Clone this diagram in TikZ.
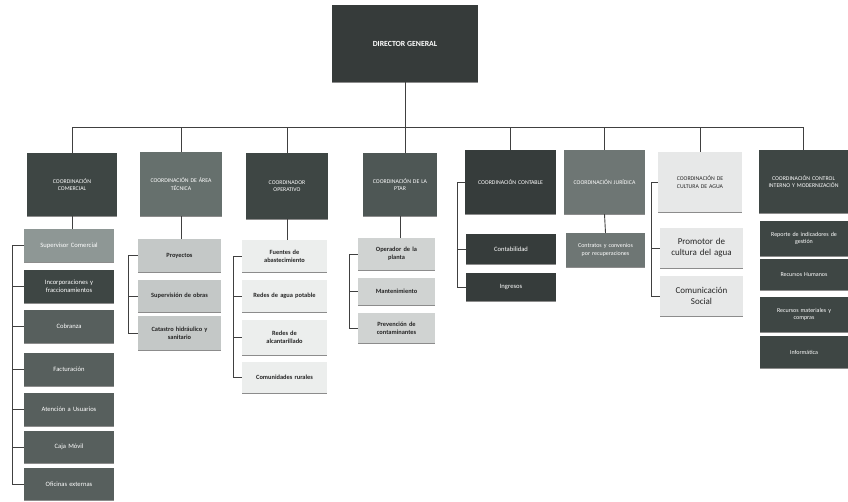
\documentclass[tikz,border=0pt]{standalone}
\usepackage{fontspec}
\setmainfont{Carlito}
\usetikzlibrary{shadows}
\definecolor{dirc}{HTML}{363B3A}
\definecolor{dk}{HTML}{3E4644}
\definecolor{dkb}{HTML}{363C3B}
\definecolor{md}{HTML}{66706D}
\definecolor{mdb}{HTML}{4E5755}
\definecolor{gj}{HTML}{6E7674}
\definecolor{ltc}{HTML}{E7E8E8}
\definecolor{sup}{HTML}{8E9795}
\definecolor{cg}{HTML}{575F5D}
\definecolor{lg}{HTML}{C4C8C7}
\definecolor{vl}{HTML}{ECEEED}
\definecolor{pl}{HTML}{D0D3D2}
\definecolor{ln}{HTML}{404040}
\tikzset{
  box/.style={draw=none, inner sep=1pt, align=center, text=white,
    drop shadow={shadow xshift=0.4pt, shadow yshift=-1.4pt, fill=black, opacity=0.45}},
  coord/.style={box, font=\fontsize{5.8}{7.2}\selectfont},
  sub/.style={box, font=\fontsize{6.6}{7.8}\selectfont},
  subd/.style={sub, text=black!85, font=\bfseries\fontsize{6.4}{7.6}\selectfont},
  conn/.style={draw=ln, line width=0.9pt}
}
\begin{document}
\begin{tikzpicture}[x=1pt,y=-1pt]
\useasboundingbox (0,0) rectangle (848,501);
% director
\node[box, fill=dirc, minimum width=146pt, minimum height=77pt, font=\bfseries\fontsize{7.8}{9}\selectfont] (dir) at (405,43.5) {DIRECTOR GENERAL};
\coordinate (bus) at (0,127);
% coordinators
\node[coord, fill=dk, minimum width=90pt, minimum height=63pt, text width=80pt] (c1) at (72,184.5) {COORDINACIÓN\\COMERCIAL};
\node[coord, fill=md, minimum width=82pt, minimum height=64pt, text width=76pt] (c2) at (181,184) {COORDINACIÓN DE ÁREA\\TÉCNICA};
\node[coord, fill=dk, minimum width=82pt, minimum height=66pt, text width=76pt] (c3) at (287,186) {COORDINADOR\\OPERATIVO};
\node[coord, fill=mdb, minimum width=74pt, minimum height=63pt, text width=70pt] (c4) at (400,184.5) {COORDINACIÓN DE LA\\PTAR};
\node[coord, fill=dkb, minimum width=91pt, minimum height=64pt, text width=88pt] (c5) at (510.5,182) {COORDINACIÓN CONTABLE};
\node[coord, fill=gj, minimum width=81pt, minimum height=64pt, text width=78pt] (c6) at (604.5,182) {COORDINACIÓN JURÍDICA};
\node[coord, fill=ltc, text=black!85, minimum width=84pt, minimum height=60pt, text width=78pt] (c7) at (700,182) {COORDINACIÓN DE\\CULTURA DE AGUA};
\node[coord, fill=dk, minimum width=89pt, minimum height=63pt, text width=86pt] (c8) at (803.5,181.5) {COORDINACIÓN CONTROL\\INTERNO Y MODERNIZACIÓN};
% bus
\draw[conn] (dir.south) -- (dir.south |- bus);
\draw[conn] (c1.north |- bus) -- (c8.north |- bus);
\foreach \c in {c1,c2,c3,c5,c6,c7,c8} \draw[conn] (\c.north |- bus) -- (\c.north);
\draw[conn] (dir.south |- c4.north) -- (dir.south |- bus);
% Comercial
\node[sub, fill=sup, minimum width=90pt, minimum height=33pt, text width=86pt] (s11) at (69,245.5) {Supervisor Comercial};
\node[sub, fill=dk, minimum width=90pt, minimum height=33pt, text width=86pt] (s12) at (69,286.5) {Incorporaciones y\\fraccionamientos};
\node[sub, fill=cg, minimum width=90pt, minimum height=33pt, text width=86pt] (s13) at (69,326.5) {Cobranza};
\node[sub, fill=cg, minimum width=90pt, minimum height=33pt, text width=86pt] (s14) at (69,369.5) {Facturación};
\node[sub, fill=cg, minimum width=90pt, minimum height=33pt, text width=86pt] (s15) at (69,409.5) {Atención a Usuarios};
\node[sub, fill=cg, minimum width=90pt, minimum height=32pt, text width=86pt] (s16) at (69,447) {Caja Móvil};
\node[sub, fill=cg, minimum width=90pt, minimum height=32pt, text width=86pt] (s17) at (69,484) {Oficinas externas};
\draw[conn] (c1.south) -- (c1.south |- s11.north);
\coordinate (b1) at (12,0);
\draw[conn] (s11.west) -- (s11.west -| b1) -- (s17.west -| b1) -- (s17.west);
\foreach \s in {s12,s13,s14,s15,s16} \draw[conn] (\s.west -| b1) -- (\s.west);
% Tecnica
\node[subd, fill=lg, minimum width=83pt, minimum height=33pt, text width=79pt] (s21) at (179.5,255.5) {Proyectos};
\node[subd, fill=lg, minimum width=83pt, minimum height=32pt, text width=79pt] (s22) at (179.5,296) {Supervisión de obras};
\node[subd, fill=lg, minimum width=83pt, minimum height=34pt, text width=79pt] (s23) at (179.5,333) {Catastro hidráulico y\\sanitario};
\draw[conn] (c2.south) -- (c2.south |- s21.north);
\coordinate (b2) at (128,0);
\draw[conn] (s21.west) -- (s21.west -| b2) -- (s23.west -| b2) -- (s23.west);
\draw[conn] (s22.west -| b2) -- (s22.west);
% Operativo
\node[subd, fill=vl, minimum width=85pt, minimum height=32pt, text width=81pt] (s31) at (284.5,256) {Fuentes de\\abastecimiento};
\node[subd, fill=vl, minimum width=85pt, minimum height=32pt, text width=81pt] (s32) at (284.5,296) {Redes de agua potable};
\node[subd, fill=vl, minimum width=85pt, minimum height=35pt, text width=81pt] (s33) at (284.5,337.5) {Redes de\\alcantarillado};
\node[subd, fill=vl, minimum width=85pt, minimum height=31pt, text width=81pt] (s34) at (284.5,377.5) {Comunidades rurales};
\draw[conn] (c3.south) -- (c3.south |- s31.north);
\coordinate (b3) at (233,0);
\draw[conn] (s31.west) -- (s31.west -| b3) -- (s34.west -| b3) -- (s34.west);
\foreach \s in {s32,s33} \draw[conn] (\s.west -| b3) -- (\s.west);
% PTAR
\node[subd, fill=pl, minimum width=77pt, minimum height=32pt, text width=73pt] (s41) at (396.5,254) {Operador de la\\planta};
\node[subd, fill=pl, minimum width=77pt, minimum height=27pt, text width=73pt] (s42) at (396.5,291.5) {Mantenimiento};
\node[subd, fill=pl, minimum width=77pt, minimum height=30pt, text width=73pt] (s43) at (396.5,328) {Prevención de\\contaminantes};
\draw[conn] (c4.south) -- (c4.south |- s41.north);
\coordinate (b4) at (349,0);
\draw[conn] (s41.west) -- (s41.west -| b4) -- (s43.west -| b4) -- (s43.west);
\draw[conn] (s42.west -| b4) -- (s42.west);
% Contable
\node[sub, fill=dkb, minimum width=90pt, minimum height=30pt, text width=86pt] (s51) at (511,249) {Contabilidad};
\node[sub, fill=dkb, minimum width=90pt, minimum height=28pt, text width=86pt] (s52) at (511,287) {Ingresos};
\coordinate (b5) at (457,0);
\draw[conn] (c5.west) -- (c5.west -| b5) -- (s52.west -| b5) -- (s52.west);
\draw[conn] (s51.west -| b5) -- (s51.west);
% Juridica
\node[sub, fill=gj, minimum width=79pt, minimum height=34pt, text width=76pt, font=\fontsize{6}{8}\selectfont] (s61) at (605.5,250) {Contratos y convenios\\por recuperaciones};
\draw[conn] (c6.south) -- (s61.north);
% Cultura del agua
\node[box, fill=ltc, text=black!85, minimum width=83pt, minimum height=40pt, text width=79pt, font=\fontsize{9}{11}\selectfont] (s71) at (701.5,248) {Promotor de\\cultura del agua};
\node[box, fill=ltc, text=black!85, minimum width=83pt, minimum height=40pt, text width=79pt, font=\fontsize{9}{11}\selectfont] (s72) at (701.5,296) {Comunicación\\Social};
\coordinate (b7) at (651,0);
\draw[conn] (c7.west) -- (c7.west -| b7) -- (s72.west -| b7) -- (s72.west);
\draw[conn] (s71.west -| b7) -- (s71.west);
% Control interno
\node[sub, fill=dk, minimum width=88pt, minimum height=35pt, text width=85pt, font=\fontsize{6}{7.5}\selectfont] (s81) at (804,238.5) {Reporte de indicadores de\\gestión};
\node[sub, fill=dk, minimum width=88pt, minimum height=31pt, text width=85pt, font=\fontsize{6}{7.5}\selectfont] (s82) at (804,274.5) {Recursos Humanos};
\node[sub, fill=dk, minimum width=88pt, minimum height=35pt, text width=85pt, font=\fontsize{6}{7.5}\selectfont] (s83) at (804,314.5) {Recursos materiales y\\compras};
\node[sub, fill=dk, minimum width=88pt, minimum height=32pt, text width=85pt, font=\fontsize{6}{7.5}\selectfont] (s84) at (804,352) {Informática};
\end{tikzpicture}
\end{document}
